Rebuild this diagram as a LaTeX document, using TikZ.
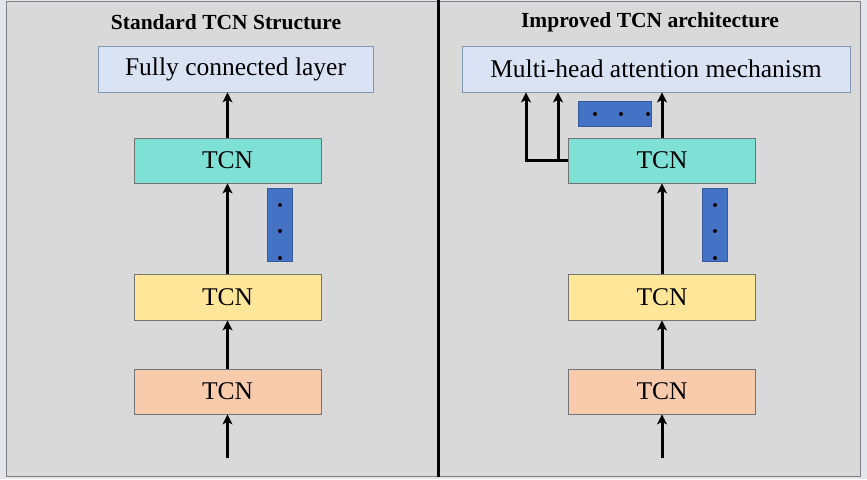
\documentclass[tikz,border=0pt]{standalone}
\usepackage{fontspec}
\setmainfont{Liberation Serif}
\usetikzlibrary{arrows.meta}
\definecolor{bgout}{HTML}{E4E5EC}
\definecolor{bgin}{HTML}{D9D9D9}
\definecolor{fcfill}{HTML}{DAE3F3}
\definecolor{fcdraw}{HTML}{8497B0}
\definecolor{teal}{HTML}{7FE0D6}
\definecolor{yel}{HTML}{FFE699}
\definecolor{ora}{HTML}{F8CBAD}
\definecolor{dotblue}{HTML}{4472C4}
\tikzset{
  box/.style={draw=black!55, line width=0.8pt, minimum width=187pt, minimum height=45pt, inner sep=0pt, font=\fontsize{25.5}{28}\selectfont},
  topbox/.style={box, fill=fcfill, draw=fcdraw},
  dotbox/.style={fill=dotblue, draw=dotblue!80!black, line width=0.6pt, inner sep=0pt},
  arr/.style={-{Stealth[length=10pt,width=10pt,inset=2.5pt]}, line width=3pt, black},
  ttl/.style={font=\fontsize{21.5}{24}\selectfont\bfseries},
  dot/.style={circle, fill=black, inner sep=0pt, minimum size=4pt}
}
\begin{document}
\begin{tikzpicture}[x=1pt,y=-1pt]
\useasboundingbox (0,0) rectangle (867,479);
\fill[bgout] (0,0) rectangle (867,479);
\filldraw[fill=bgin, draw=black!50, line width=0.8pt] (6,1) rectangle (860,476);
\draw[line width=3pt, black] (438.5,0) -- (438.5,477);

% left panel
\node[ttl] (t1) at (226,22) {Standard TCN Structure};
\node[topbox, minimum width=275pt, minimum height=46pt] (fc) at (235.5,69) {Fully connected layer};
\node[box, fill=teal] (l3) at (227.5,160.5) {TCN};
\node[box, fill=yel, minimum height=46pt] (l2) at (227.5,297) {TCN};
\node[box, fill=ora] (l1) at (227.5,391.5) {TCN};
\node[dotbox, minimum width=25pt, minimum height=73pt] (vd1) at (279.5,224.5) {};
\node[dot] (vd1a) at (280,205) {};
\node[dot] (vd1b) at (280,231) {};
\node[dot] (vd1c) at (280,258) {};
\coordinate (inL) at (227.5,458);
\draw[arr] (inL) -- (l1.south);
\draw[arr] (l1.north) -- (l2.south);
\draw[arr] (l2.north) -- (l3.south);
\draw[arr] (l3.north) -- (l3.north |- fc.south);

% right panel
\node[ttl] (t2) at (650,22) {Improved TCN architecture};
\node[topbox, minimum width=388pt, minimum height=46pt] (mha) at (656,69) {Multi-head attention mechanism};
\node[box, fill=teal] (r3) at (662,160.5) {TCN};
\node[box, fill=yel, minimum height=46pt] (r2) at (662,297) {TCN};
\node[box, fill=ora] (r1) at (662,391.5) {TCN};
\node[dotbox, minimum width=25pt, minimum height=73pt] (vd2) at (715,224.5) {};
\node[dot] (vd2a) at (715,205) {};
\node[dot] (vd2b) at (715,231) {};
\node[dot] (vd2c) at (715,258) {};
\node[dotbox, minimum width=73pt, minimum height=25pt] (hd) at (615,114) {};
\node[dot] (hda) at (595,114) {};
\node[dot] (hdb) at (621,114) {};
\node[dot] (hdc) at (648,114) {};
\coordinate (inR) at (662,458);
\coordinate (ba) at (526,0);
\coordinate (bb) at (558,0);
\coordinate (ra) at (662,0);
\draw[arr] (inR) -- (r1.south);
\draw[arr] (r1.north) -- (r2.south);
\draw[arr] (r2.north) -- (r3.south);
\draw[arr] (r3.north -| ra) -- (mha.south -| ra);
\draw[arr] (r3.west) -| (mha.south -| ba);
\draw[arr] (r3.west -| bb) -- (mha.south -| bb);
\end{tikzpicture}
\end{document}
